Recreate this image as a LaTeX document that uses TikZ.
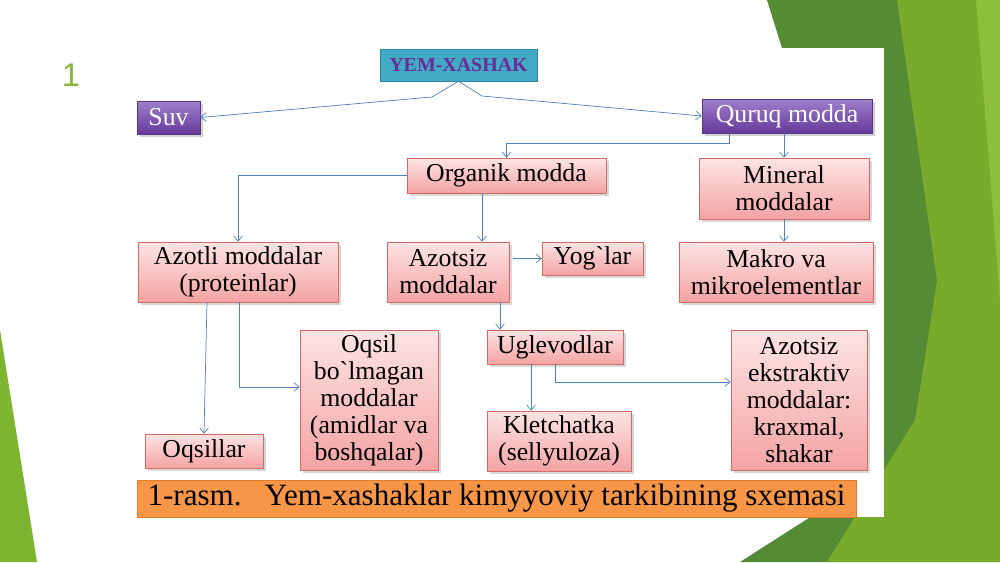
\documentclass[tikz,border=0pt]{standalone}
\usepackage{fontspec}
\setmainfont{Liberation Serif}
\newfontfamily\slidefont{Liberation Sans}
\usetikzlibrary{arrows.meta,shadows}

\definecolor{linkblue}{HTML}{4F81BD}
\definecolor{pinktop}{HTML}{FDE4E4}
\definecolor{pinkbot}{HTML}{F4A3A3}
\definecolor{pinkedge}{HTML}{D46A66}
\definecolor{lilatop}{HTML}{9F80CC}
\definecolor{lilabot}{HTML}{65399A}
\definecolor{lilaedge}{HTML}{5A3787}
\definecolor{tealfill}{HTML}{43AAC6}
\definecolor{tealedge}{HTML}{2E87A3}
\definecolor{titlepurple}{HTML}{6A2A98}
\definecolor{capfill}{HTML}{F79646}
\definecolor{capedge}{HTML}{E07B2A}
\definecolor{greendark}{HTML}{558B35}
\definecolor{greenlight}{HTML}{78AA2C}
\definecolor{greenbright}{HTML}{8DBE3C}
\definecolor{greenleft}{HTML}{7DB530}
\definecolor{numgreen}{HTML}{8AB63E}

\begin{document}
\begin{tikzpicture}[x=0.3mm, y=-0.3mm,
    link/.style={draw=linkblue, line width=0.6pt, -{Straight Barb[length=1.6mm,width=2.6mm]}},
    pinkbox/.style={draw=pinkedge, top color=pinktop, bottom color=pinkbot,
        align=center, inner sep=1pt, font=\fontsize{22}{23}\selectfont,
        drop shadow={opacity=0.3, shadow xshift=0.8mm, shadow yshift=-0.9mm}},
    lilabox/.style={draw=lilaedge, top color=lilatop, bottom color=lilabot,
        text=white, inner sep=1pt, font=\fontsize{22}{23}\selectfont,
        drop shadow={opacity=0.35, shadow xshift=0.8mm, shadow yshift=-0.9mm}}]

    \useasboundingbox (0,0) rectangle (1000,562);

    % Fon
    \fill[white] (0,0) rectangle (1000,562);
    \fill[greendark] (767,0) -- (1000,0) -- (1000,562) -- (740,562) -- (884,470) -- (884,48) -- (782,48) -- cycle;
    \fill[greenlight] (897,0) -- (1000,0) -- (1000,562) -- (827,562) -- (915,420) -- (937,281) -- cycle;
    \fill[greenbright] (976,0) -- (1000,0) -- (1000,300) -- cycle;
    \fill[greenleft] (0,330) -- (37,562) -- (0,562) -- cycle;
    \fill[white] (137,48) rectangle (884,517);
    \node[text=numgreen, font=\slidefont\fontsize{28}{30}\selectfont] (num) at (71,75) {1};

    % Bloklar
    \node[draw=tealedge, fill=tealfill, minimum width=47.1mm, minimum height=9.6mm, inner sep=1pt,
          text=titlepurple, font=\bfseries\fontsize{17}{18}\selectfont] (yem) at (458.5,65) {YEM-XASHAK};
    \node[lilabox, minimum width=18.9mm, minimum height=9.9mm] (suv) at (168.5,117.5) {Suv};
    \node[lilabox, minimum width=51mm, minimum height=10.2mm] (quruq) at (787,116) {Quruq modda};

    \node[pinkbox, minimum width=59.7mm, minimum height=10.5mm] (organik) at (506.5,175.5) {Organik modda};
    \node[pinkbox, minimum width=51mm, minimum height=18.3mm] (mineral) at (784,188.5) {Mineral\\moddalar};
    \node[pinkbox, minimum width=58.2mm, minimum height=18mm] (makro) at (776,272) {Makro va\\mikroelementlar};

    \node[pinkbox, minimum width=60mm, minimum height=18mm] (azotli) at (238,272) {Azotli moddalar\\(proteinlar)};
    \node[pinkbox, minimum width=36.6mm, minimum height=18mm] (azotsiz) at (448,272) {Azotsiz\\moddalar};
    \node[pinkbox, minimum width=30.3mm, minimum height=9.9mm] (yoglar) at (592.5,258.5) {Yog\textasciigrave lar};

    \node[pinkbox, minimum width=35.4mm, minimum height=10.2mm] (oqsillar) at (204,451) {Oqsillar};
    \node[pinkbox, minimum width=41.4mm, minimum height=42mm] (oqsilsiz) at (369,400)
        {Oqsil\\bo\textasciigrave lmagan\\moddalar\\(amidlar va\\boshqalar)};
    \node[pinkbox, minimum width=40.8mm, minimum height=10.2mm] (uglevod) at (555,347) {Uglevodlar};
    \node[pinkbox, minimum width=43.2mm, minimum height=18mm] (kletchatka) at (559,441) {Kletchatka\\(sellyuloza)};
    \node[pinkbox, minimum width=40.8mm, minimum height=42mm] (ekstrakt) at (799,400)
        {Azotsiz\\ekstraktiv\\moddalar:\\kraxmal,\\shakar};

    % Yozuv
    \node[draw=capedge, fill=capfill, minimum width=215.7mm, minimum height=11.1mm, inner sep=0pt,
          font=\fontsize{26.5}{28}\selectfont] (yozuv) at (496.5,498.5)
        {1-rasm.\hspace{0.75em}Yem-xashaklar kimyyoviy tarkibining sxemasi};

    % Burilish nuqtalari
    \coordinate (b1) at (432,97);
    \coordinate (b2) at (482,96);
    \coordinate (b3) at (729,143);
    \coordinate (c1) at (482,0);
    \coordinate (c2) at (500,0);
    \coordinate (c3) at (207,0);
    \coordinate (c4) at (239,387);
    \coordinate (c5) at (531,0);
    \coordinate (c6) at (555,382);

    % Strelkalar
    \draw[link] (yem.south) -- (b1) -- (suv.east);
    \draw[link] (yem.south) -- (b2) -- (quruq.west);
    \draw[link] (quruq.south -| b3) -- (b3) -| (organik.north);
    \draw[link] (quruq.south -| mineral.north) -- (mineral.north);
    \draw[link] (mineral.south) -- (mineral.south |- makro.north);
    \draw[link] (organik.west) -| (azotli.north);
    \draw[link] (organik.south -| c1) -- (azotsiz.north -| c1);
    \draw[link, shorten <=1.2mm] (azotsiz.east |- yoglar.west) -- (yoglar.west);
    \draw[link] (azotsiz.south -| c2) -- (uglevod.north -| c2);
    \draw[link] (azotli.south -| c3) -- (oqsillar.north);
    \draw[link] (azotli.south -| c4) -- (c4) -- (oqsilsiz.west |- c4);
    \draw[link] (uglevod.south -| c5) -- (kletchatka.north -| c5);
    \draw[link] (uglevod.south) -- (c6) -- (ekstrakt.west |- c6);

\end{tikzpicture}
\end{document}
